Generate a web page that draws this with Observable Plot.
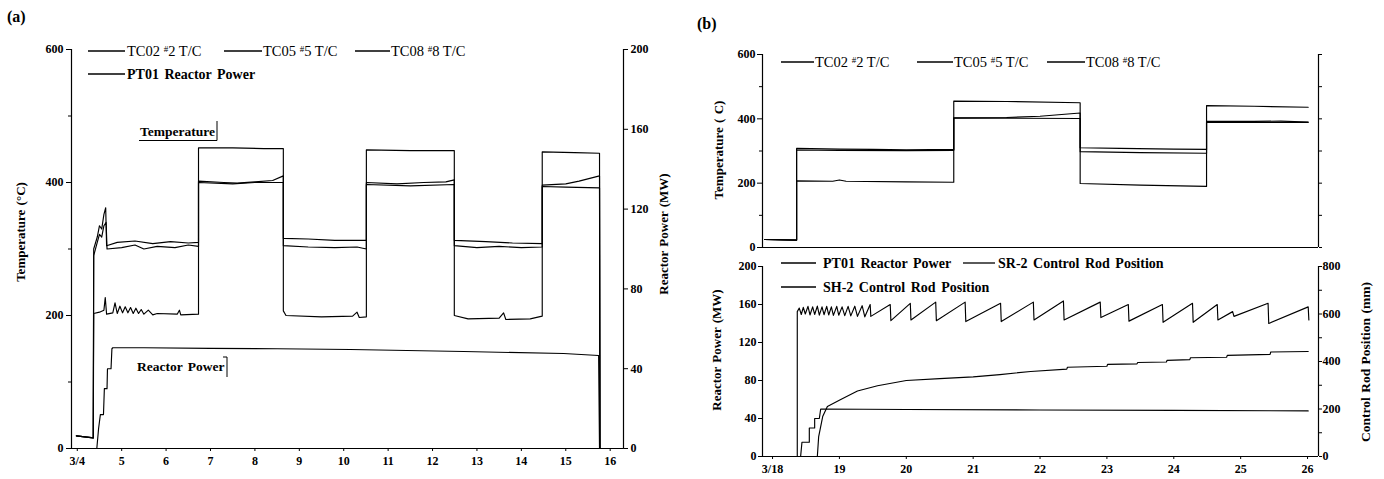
<!DOCTYPE html>
<html><head><meta charset="utf-8">
<script src="https://cdn.jsdelivr.net/npm/d3@7"></script>
<script src="https://cdn.jsdelivr.net/npm/@observablehq/plot@0.6"></script>
<style>
body{margin:0;background:#fff;}
#wrap{position:relative;width:1384px;height:479px;overflow:hidden;background:#fff;}
#wrap svg{position:absolute;}
</style></head><body><div id="wrap"></div>
<script>
// ---------------- DATA ----------------
// Panel (a): days of March, temperatures in °C, power in MW
const aDayTicks = [4,5,6,7,8,9,10,11,12,13,14,15,16];
const aTempTicks = [0,200,400,600];
const aTempMinor = [100,300,500];
const aPowerTicks = [0,40,80,120,160,200];
const a_TC02 = [[3.98,19],[4.36,16],[4.37,300],[4.45,318],[4.5,335],[4.55,330],[4.6,352],[4.64,362],[4.66,305],[4.9,310],[5.3,312],[5.7,308],[6.1,311],[6.5,309],[6.73,310],[6.73,452],[7.5,452],[8.2,451],[8.64,451],[8.64,316],[9.2,315],[9.8,313],[10.51,313],[10.51,449],[11.5,448],[12.49,448],[12.49,313],[13.2,311],[13.8,309],[14.47,308],[14.47,446],[15.2,445],[15.76,444],[15.77,0]];
const a_TC05 = [[3.98,19],[4.36,16],[4.37,290],[4.45,310],[4.5,322],[4.55,318],[4.6,335],[4.65,340],[4.67,300],[5.0,302],[5.3,306],[5.5,300],[5.8,304],[6.2,302],[6.5,306],[6.73,304],[6.73,402],[7.3,400],[7.6,399],[8.0,401],[8.4,403],[8.64,410],[8.64,305],[9.2,303],[9.8,302],[10.3,303],[10.51,300],[10.51,400],[11.2,398],[11.8,400],[12.3,401],[12.49,404],[12.49,305],[13.0,302],[13.5,304],[14.0,302],[14.47,303],[14.47,396],[15.0,398],[15.3,402],[15.76,410],[15.77,0]];
const a_TC08 = [[3.98,19],[4.36,16],[4.37,203],[4.5,205],[4.6,208],[4.63,227],[4.66,202],[4.8,204],[4.85,219],[4.9,203],[4.96,214],[5.02,204],[5.08,213],[5.14,204],[5.2,212],[5.26,203],[5.32,211],[5.38,203],[5.44,209],[5.5,202],[5.6,208],[5.7,201],[5.8,203],[6.25,202],[6.3,208],[6.33,201],[6.73,202],[6.73,400],[7.5,398],[8.0,400],[8.64,400],[8.64,207],[8.7,200],[9.5,198],[10.2,199],[10.3,205],[10.35,197],[10.51,198],[10.51,397],[11.5,395],[12.49,397],[12.49,200],[12.8,195],[13.5,196],[13.6,204],[13.65,194],[14.2,195],[14.47,199],[14.47,394],[15.0,393],[15.76,392],[15.77,0]];
const a_PT01 = [[3.87,0],[4.44,0],[4.48,10],[4.52,17],[4.59,17],[4.61,30],[4.67,30],[4.68,40],[4.76,40],[4.78,50],[4.8,50.5],[5.5,50.5],[7,50.2],[8.5,50],[10.15,49.6],[12.7,48.6],[14.95,47.6],[15.74,46.6],[15.76,0],[16.3,0]];

// Panel (b): days of March, temperatures °C, power MW, rod positions mm
const bDayTicks = [18,19,20,21,22,23,24,25,26];
const bTempTicks = [0,200,400,600];
const bTempMinor = [100,300,500];
const bTempRight = [0,100,200,300,400,500,600];
const bPowerTicks = [0,40,80,120,160,200];
const bRodTicks = [0,200,400,600,800];
const bRodMinor = [100,300,500,700];
const b_TC02 = [[17.88,25],[18.36,23],[18.36,308],[19,306],[19.5,305],[20,304],[20.71,305],[20.71,455],[21.5,454],[22.6,450],[22.6,310],[23.2,308],[24,306],[24.49,305],[24.49,441],[25.2,439],[26.01,436]];
const b_TC05 = [[17.88,25],[18.36,23],[18.36,303],[19,302],[20,301],[20.71,302],[20.71,403],[21.5,404],[22.0,408],[22.6,418],[22.6,298],[23.5,295],[24.49,293],[24.49,392],[25.2,392],[25.6,393],[26.01,390]];
const b_TC08 = [[17.88,25],[18.36,23],[18.36,207],[18.9,206],[19.0,210],[19.1,206],[20,204],[20.71,203],[20.71,402],[21.5,402],[22.6,401],[22.6,199],[23.5,194],[24.49,190],[24.49,390],[25.5,389],[26.01,389]];
const b_PT01 = [[17.85,0],[18.42,0],[18.44,15],[18.55,15],[18.55,30],[18.63,30],[18.63,40],[18.70,40],[18.72,50],[20,49.5],[22,49],[24,48.5],[26.01,48]];
const b_SR2 = [[17.85,0],[18.37,0],[18.37,610],[18.40,625],[18.43,598],[18.46,628],[18.49,600],[18.53,632],[18.56,596],[18.60,630],[18.63,598],[18.67,633],[18.70,595],[18.74,630],[18.77,597],[18.81,632],[18.84,596],[18.88,630],[18.91,594],[18.96,632],[18.99,595],[19.04,630],[19.08,593],[19.13,632],[19.17,592],[19.23,633],[19.27,590],[19.34,635],[19.38,588],[19.46,640],[19.47,590],[19.76,640],[19.77,572],[20.06,645],[20.07,575],[20.44,650],[20.45,572],[20.88,650],[20.89,568],[21.41,645],[21.42,568],[21.90,650],[21.91,575],[22.35,655],[22.36,575],[22.90,650],[22.91,585],[23.32,640],[23.33,570],[23.83,640],[23.84,565],[24.28,645],[24.29,565],[24.65,640],[24.66,575],[24.88,610],[24.9,590],[25.41,645],[25.42,560],[26.01,630],[26.02,575]];
const b_SH2 = [[18.67,0],[18.69,84],[18.75,168],[18.82,211],[19.02,240],[19.27,276],[19.57,298],[20.0,320],[20.5,328],[21.0,335],[21.4,345],[21.86,358],[22.40,368],[22.41,376],[23.0,380],[23.01,388],[23.45,390],[23.46,396],[23.89,398],[23.9,405],[24.24,408],[24.25,416],[24.79,418],[24.8,426],[25.44,430],[25.45,440],[26.01,442]];

// ---------------- HELPERS ----------------
const rows = (arr, s) => arr.map(([day, v]) => ({day, v, s}));
const SERIF = '"Liberation Serif", "Times New Roman", serif';
const baseStyle = {fontFamily: SERIF, fontSize: "12px", fontWeight: "bold", background: "transparent", color: "#000", overflow: "visible"};
const LW = 1.15;
const wrap = document.getElementById("wrap");

function place(svg, left, top) {
  svg.style.left = left + "px"; svg.style.top = top + "px";
  wrap.appendChild(svg);
  return d3.select(svg).append("g").attr("transform", `translate(${-left},${-top})`)
    .style("font-family", SERIF).attr("fill", "#000").attr("text-anchor", "start");
}
function seg(g, x1, x2, y) {
  g.append("line").attr("x1", x1).attr("x2", x2).attr("y1", y).attr("y2", y)
    .attr("stroke", "#000").attr("stroke-width", 1.3);
}
function tcText(g, x, y, pre, num) {
  const t = g.append("text").attr("x", x).attr("y", y).attr("dy", "0.35em").attr("text-anchor", "start")
    .style("font-size", "14.5px").style("font-weight", "normal");
  t.append("tspan").text(pre + " ");
  t.append("tspan").text("#").style("font-size", "9px").attr("dy", -4);
  t.append("tspan").text(num + " T/C").attr("dy", 4);
}
function boldText(g, x, y, s, size) {
  g.append("text").attr("x", x).attr("y", y).attr("dy", "0.35em").attr("text-anchor", "start")
    .style("font-size", (size || 14) + "px").style("font-weight", "bold").style("word-spacing", "2px").text(s);
}
function vTitle(g, x, y, s, size) {
  g.append("text").attr("transform", `translate(${x},${y}) rotate(-90)`).attr("text-anchor", "middle")
    .attr("dy", "0.35em").style("font-size", (size || 13) + "px").style("font-weight", "bold")
    .style("word-spacing", "1px").text(s);
}
function path(g, d) {
  g.append("path").attr("d", d).attr("fill", "none").attr("stroke", "#000").attr("stroke-width", 1);
}

// ---------------- PANEL (a) ----------------
const A_X0 = 3.87, A_X1 = 16.3;
const aTemps = [...rows(a_TC02, "TC02"), ...rows(a_TC05, "TC05"), ...rows(a_TC08, "TC08")];
const plotA = Plot.plot({
  width: 690, height: 479, marginLeft: 71, marginRight: 67, marginTop: 49, marginBottom: 31,
  style: baseStyle,
  x: {domain: [A_X0, A_X1]},
  y: {domain: [0, 600]},
  marks: [
    Plot.ruleX([A_X0], {y1: 0, y2: 600, strokeWidth: 1.2}),
    Plot.ruleX([A_X1], {y1: 0, y2: 600, strokeWidth: 1.2}),
    Plot.ruleY([0], {strokeWidth: 1.2}),
    Plot.axisY({anchor: "left", ticks: aTempTicks, tickSize: 5, tickPadding: 3, label: null}),
    Plot.axisY({anchor: "left", ticks: aTempMinor, tickSize: 3, tickFormat: () => "", label: null}),
    Plot.axisY({anchor: "right", ticks: aPowerTicks.map(p => p * 3), tickFormat: d => Math.round(d / 3), tickSize: 4, tickPadding: 3, label: null}),
    Plot.axisX({ticks: aDayTicks, tickFormat: d => d === 4 ? "3/4" : String(d), tickSize: 3, tickPadding: 5, label: null}),
    Plot.line(aTemps, {x: "day", y: "v", z: "s", stroke: "#000", strokeWidth: LW}),
    Plot.line(rows(a_PT01, "PT01"), {x: "day", y: d => d.v * 3, stroke: "#000", strokeWidth: LW})
  ]
});
const gA = place(plotA, 0, 0);
gA.append("text").attr("x", 7).attr("y", 22).attr("text-anchor", "start").style("font-size", "16px").style("font-weight", "bold").text("(a)");
seg(gA, 88, 125, 51); tcText(gA, 127, 51, "TC02", "2");
seg(gA, 224, 262, 51); tcText(gA, 263, 51, "TC05", "5");
seg(gA, 355, 390, 51); tcText(gA, 391, 51, "TC08", "8");
seg(gA, 88, 125, 74); boldText(gA, 127, 74, "PT01 Reactor Power", 14);
boldText(gA, 140, 131, "Temperature", 13.5);
path(gA, "M139,140.5 H217 V121");
boldText(gA, 137, 366, "Reactor Power", 13.5);
path(gA, "M223,357 H227 V377");
vTitle(gA, 20, 232, "Temperature (°C)", 13);
vTitle(gA, 663, 234, "Reactor Power (MW)", 13);

// ---------------- PANEL (b) top ----------------
const B_X0 = 17.85, B_X1 = 26.164;
const bTemps = [...rows(b_TC02, "TC02"), ...rows(b_TC05, "TC05"), ...rows(b_TC08, "TC08")];
const plotBT = Plot.plot({
  width: 694, height: 260, marginLeft: 72, marginRight: 66, marginTop: 54, marginBottom: 13,
  style: baseStyle,
  x: {domain: [B_X0, B_X1], axis: null},
  y: {domain: [0, 600]},
  marks: [
    Plot.ruleX([B_X0], {y1: 0, y2: 600, strokeWidth: 1.2}),
    Plot.ruleX([B_X1], {y1: 0, y2: 600, strokeWidth: 1.2}),
    Plot.ruleY([0], {strokeWidth: 1.2}),
    Plot.axisY({anchor: "left", ticks: bTempTicks, tickSize: 5, tickPadding: 2, label: null}),
    Plot.axisY({anchor: "left", ticks: bTempMinor, tickSize: 3, tickFormat: () => "", label: null}),
    Plot.axisY({anchor: "right", ticks: bTempRight, tickSize: 3, tickFormat: () => "", label: null}),
    Plot.line(bTemps, {x: "day", y: "v", z: "s", stroke: "#000", strokeWidth: LW})
  ]
});
const gBT = place(plotBT, 690, 0);
gBT.append("text").attr("x", 697).attr("y", 29).attr("text-anchor", "start").style("font-size", "16px").style("font-weight", "bold").text("(b)");
seg(gBT, 781, 814, 62); tcText(gBT, 815, 62, "TC02", "2");
seg(gBT, 917, 953, 62); tcText(gBT, 954, 62, "TC05", "5");
seg(gBT, 1047, 1085, 62); tcText(gBT, 1086, 62, "TC08", "8");
vTitle(gBT, 718, 150, "Temperature ( C)", 13);

// ---------------- PANEL (b) bottom ----------------
const plotBB = Plot.plot({
  width: 694, height: 229, marginLeft: 72, marginRight: 66, marginTop: 16, marginBottom: 23,
  style: baseStyle,
  x: {domain: [B_X0, B_X1]},
  y: {domain: [0, 200]},
  marks: [
    Plot.ruleX([B_X0], {y1: 0, y2: 200, strokeWidth: 1.2}),
    Plot.ruleX([B_X1], {y1: 0, y2: 200, strokeWidth: 1.2}),
    Plot.ruleY([0], {strokeWidth: 1.2}),
    Plot.axisY({anchor: "left", ticks: bPowerTicks, tickSize: 4, tickPadding: 2, label: null}),
    Plot.axisY({anchor: "right", ticks: bRodTicks.map(m => m / 4), tickFormat: d => Math.round(d * 4), tickSize: 3, tickPadding: 1, label: null}),
    Plot.axisY({anchor: "right", ticks: bRodMinor.map(m => m / 4), tickFormat: () => "", tickSize: 3, label: null}),
    Plot.axisX({ticks: bDayTicks, tickFormat: d => d === 18 ? "3/18" : String(d), tickSize: 3, tickPadding: 5, label: null}),
    Plot.line(rows(b_PT01, "PT01"), {x: "day", y: "v", stroke: "#000", strokeWidth: LW}),
    Plot.line(rows(b_SR2, "SR2"), {x: "day", y: d => d.v / 4, stroke: "#000", strokeWidth: LW}),
    Plot.line(rows(b_SH2, "SH2"), {x: "day", y: d => d.v / 4, stroke: "#000", strokeWidth: LW})
  ]
});
const gBB = place(plotBB, 690, 250);
seg(gBB, 781, 816, 263); boldText(gBB, 823, 263, "PT01 Reactor Power", 14);
seg(gBB, 963, 995, 263); boldText(gBB, 998, 263, "SR-2 Control Rod Position", 14);
seg(gBB, 781, 816, 287); boldText(gBB, 823, 287, "SH-2 Control Rod Position", 14);
vTitle(gBB, 716, 350, "Reactor Power (MW)", 13);
vTitle(gBB, 1365, 362, "Control Rod Position (mm)", 13.5);
</script>
</body></html>
